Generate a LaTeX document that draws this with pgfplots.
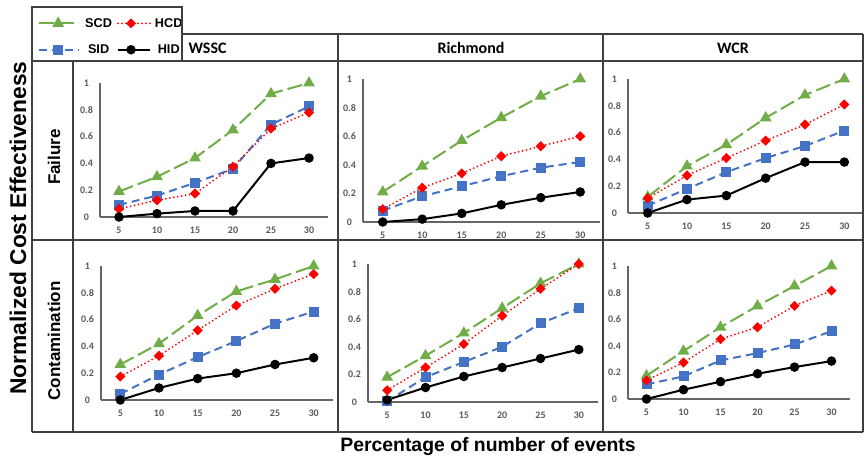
\documentclass[border=0pt]{standalone}
\usepackage{pgfplots}
\pgfplotsset{compat=1.18}
\usepackage{fontspec}
\setmainfont{Liberation Sans}
\newfontfamily\calfont{Carlito}
\definecolor{cgreen}{HTML}{70AD47}
\definecolor{cblue}{HTML}{4472C4}
\definecolor{cred}{HTML}{FF0000}
\definecolor{tickgray}{HTML}{595959}
\definecolor{framegray}{HTML}{404040}
\pgfplotsset{
  panel/.style={scale only axis, xmin=2.5, xmax=32.5, ymin=0, ymax=1,
    axis x line*=bottom, axis y line*=left,
    xtick={5,10,15,20,25,30}, ytick={0,0.2,0.4,0.6,0.8,1},
    major tick length=0pt, tick style={draw=none},
    axis line style={draw=black!60, line width=1.2pt},
    clip=false, /pgf/number format/assume math mode=true,
    ticklabel style={font=\calfont\bfseries\fontsize{10}{12}\selectfont, text=tickgray},
    xticklabel style={anchor=center, yshift=-13pt},
    yticklabel style={anchor=center, xshift=-13.5pt},
  },
  leftimg/.style={legend image code/.code={\draw[mark repeat=2,mark phase=2,##1] plot coordinates {(0pt,0pt)(19pt,0pt)(40pt,0pt)}; \path (45pt,0pt);}},
  rightimg/.style={legend image code/.code={\draw[mark repeat=2,mark phase=2,##1] plot coordinates {(0pt,0pt)(13pt,0pt)(32pt,0pt)}; \path (36pt,0pt);}},
  scd/.style={cgreen, line width=2pt, dash pattern=on 15pt off 5pt, mark=triangle*, mark size=4.8pt, mark options={solid, fill=cgreen, draw=cgreen}},
  sid/.style={cblue, line width=2pt, dash pattern=on 8pt off 5pt, mark=square*, mark size=4pt, mark options={solid, fill=cblue, draw=cblue}},
  hcd/.style={cred, line width=2pt, line cap=round, dash pattern=on 0pt off 4pt, mark=square*, mark size=2.6pt, mark options={solid, rotate=45, fill=cred, draw=cred}},
  hid/.style={black, line width=2pt, mark=*, mark size=3.7pt, mark options={solid, fill=black}},
}
\begin{document}
\begin{tikzpicture}
\path[use as bounding box] (0pt,0pt) rectangle (865pt,-457pt);
% ---------- Row 1: Failure ----------
\begin{axis}[panel, at={(100pt,-217pt)}, anchor=south west, width=228pt, height=134pt,
  transpose legend, legend columns=2,
  legend style={draw=none, fill=none, inner sep=0pt, at={(axis description cs:-0.272,1.5)}, anchor=north west,
    font=\bfseries\fontsize{12.7}{14}\selectfont, row sep=12pt,
    nodes={inner xsep=0pt, inner ysep=2pt},
    /tikz/every even column/.append style={column sep=5pt}}]
\addplot[scd, leftimg] coordinates {(5,0.19)(10,0.30)(15,0.44)(20,0.65)(25,0.92)(30,1.0)};
\addlegendentry{SCD}
\addplot[sid, leftimg] coordinates {(5,0.09)(10,0.16)(15,0.255)(20,0.36)(25,0.69)(30,0.825)};
\addlegendentry{SID}
\addplot[hcd, rightimg] coordinates {(5,0.06)(10,0.125)(15,0.175)(20,0.375)(25,0.66)(30,0.78)};
\addlegendentry{HCD}
\addplot[hid, rightimg] coordinates {(5,0)(10,0.025)(15,0.045)(20,0.045)(25,0.40)(30,0.44)};
\addlegendentry{HID}
\end{axis}
\begin{axis}[panel, at={(363pt,-222pt)}, anchor=south west, width=237pt, height=143pt]
\addplot[scd] coordinates {(5,0.21)(10,0.39)(15,0.57)(20,0.73)(25,0.88)(30,1.0)};
\addplot[sid] coordinates {(5,0.08)(10,0.18)(15,0.25)(20,0.32)(25,0.38)(30,0.42)};
\addplot[hcd] coordinates {(5,0.09)(10,0.24)(15,0.34)(20,0.46)(25,0.53)(30,0.60)};
\addplot[hid] coordinates {(5,0)(10,0.02)(15,0.06)(20,0.12)(25,0.17)(30,0.21)};
\end{axis}
\begin{axis}[panel, at={(628pt,-213pt)}, anchor=south west, width=236pt, height=134pt]
\addplot[scd] coordinates {(5,0.12)(10,0.35)(15,0.51)(20,0.71)(25,0.88)(30,1.0)};
\addplot[sid] coordinates {(5,0.055)(10,0.18)(15,0.305)(20,0.41)(25,0.50)(30,0.615)};
\addplot[hcd] coordinates {(5,0.11)(10,0.28)(15,0.41)(20,0.54)(25,0.66)(30,0.81)};
\addplot[hid] coordinates {(5,0)(10,0.10)(15,0.13)(20,0.26)(25,0.38)(30,0.38)};
\end{axis}
% ---------- Row 2: Contamination ----------
\begin{axis}[panel, at={(101pt,-400pt)}, anchor=south west, width=232pt, height=134pt]
\addplot[scd] coordinates {(5,0.265)(10,0.42)(15,0.63)(20,0.81)(25,0.90)(30,1.0)};
\addplot[sid] coordinates {(5,0.045)(10,0.19)(15,0.32)(20,0.44)(25,0.57)(30,0.66)};
\addplot[hcd] coordinates {(5,0.175)(10,0.33)(15,0.52)(20,0.705)(25,0.83)(30,0.94)};
\addplot[hid] coordinates {(5,0)(10,0.09)(15,0.16)(20,0.20)(25,0.265)(30,0.315)};
\end{axis}
\begin{axis}[panel, at={(368pt,-402pt)}, anchor=south west, width=230pt, height=138pt]
\addplot[scd] coordinates {(5,0.18)(10,0.335)(15,0.50)(20,0.68)(25,0.86)(30,1.0)};
\addplot[sid] coordinates {(5,0.005)(10,0.18)(15,0.29)(20,0.40)(25,0.57)(30,0.68)};
\addplot[hcd] coordinates {(5,0.085)(10,0.25)(15,0.42)(20,0.625)(25,0.82)(30,1.0)};
\addplot[hid] coordinates {(5,0.015)(10,0.105)(15,0.185)(20,0.25)(25,0.315)(30,0.38)};
\end{axis}
\begin{axis}[panel, at={(628pt,-399pt)}, anchor=south west, width=222pt, height=133pt]
\addplot[scd] coordinates {(5,0.175)(10,0.36)(15,0.54)(20,0.70)(25,0.85)(30,1.0)};
\addplot[sid] coordinates {(5,0.11)(10,0.17)(15,0.29)(20,0.345)(25,0.41)(30,0.51)};
\addplot[hcd] coordinates {(5,0.14)(10,0.275)(15,0.45)(20,0.54)(25,0.70)(30,0.815)};
\addplot[hid] coordinates {(5,0)(10,0.07)(15,0.13)(20,0.19)(25,0.24)(30,0.285)};
\end{axis}
% ---------- Frame and labels ----------
\begin{scope}[x=1pt, y=-1pt]
\draw[framegray, line width=1.3pt] (32,7) rectangle (182,61);
\draw[framegray, line width=1.3pt] (182,34) -- (863,34);
\draw[framegray, line width=2pt] (32,61) -- (863,61);
\draw[framegray, line width=1.3pt] (32,61) -- (32,432);
\draw[framegray, line width=1.3pt] (73,61) -- (73,432);
\draw[framegray, line width=1.3pt] (338,34) -- (338,432);
\draw[framegray, line width=1.3pt] (603,34) -- (603,432);
\draw[framegray, line width=1.3pt] (863,34) -- (863,432);
\draw[framegray, line width=1.3pt] (32,240) -- (863,240);
\draw[framegray, line width=1.3pt] (32,432) -- (863,432);
\node[font=\calfont\bfseries\fontsize{16}{18}\selectfont, anchor=west] at (185,48) {WSSC};
\node[font=\calfont\bfseries\fontsize{16}{18}\selectfont] at (471,48) {Richmond};
\node[font=\calfont\bfseries\fontsize{16}{18}\selectfont] at (733,48) {WCR};
\node[rotate=90, font=\bfseries\fontsize{22.8}{24}\selectfont] at (18,228) {Normalized Cost Effectiveness};
\node[rotate=90, font=\bfseries\fontsize{17}{19}\selectfont] at (54,157) {Failure};
\node[rotate=90, font=\bfseries\fontsize{17}{19}\selectfont] at (54,341) {Contamination};
\node[font=\bfseries\fontsize{19.4}{22}\selectfont, anchor=base] at (488,451) {Percentage of number of events};
\end{scope}
\end{tikzpicture}
\end{document}
